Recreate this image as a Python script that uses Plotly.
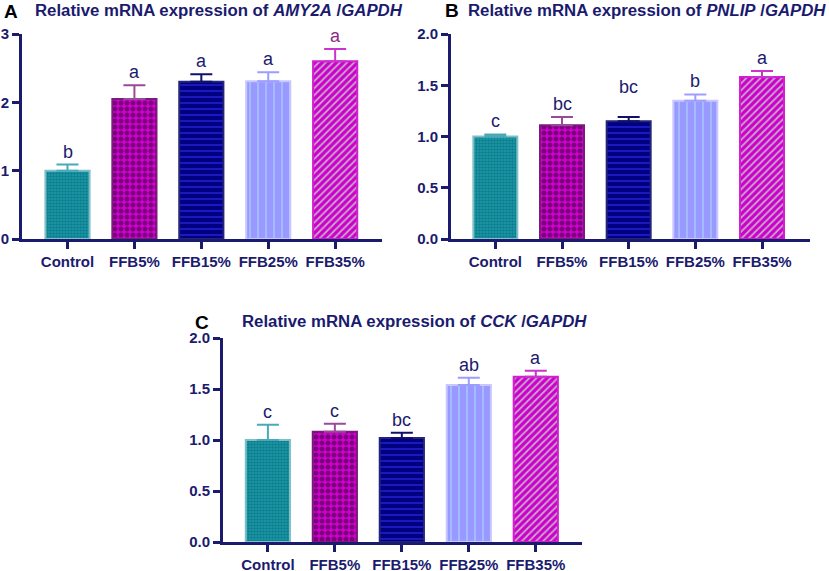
import plotly.graph_objects as go

categories = ["Control", "FFB5%", "FFB15%", "FFB25%", "FFB35%"]

amy2a_mean = [1.00, 2.05, 2.30, 2.31, 2.60]
amy2a_err = [0.09, 0.20, 0.11, 0.13, 0.18]
amy2a_letters = ["b", "a", "a", "a", "a"]

pnlip_mean = [1.00, 1.11, 1.15, 1.35, 1.58]
pnlip_err = [0.02, 0.08, 0.04, 0.06, 0.06]
pnlip_letters = ["c", "bc", "bc", "b", "a"]

cck_mean = [1.00, 1.08, 1.02, 1.54, 1.62]
cck_err = [0.15, 0.08, 0.05, 0.07, 0.06]
cck_letters = ["c", "c", "bc", "ab", "a"]

W, H = 829, 571
NAVY = "#1b1b6e"
FONT = "Liberation Sans, Arial"


def px_x(v):
    return v / W


def px_y(v):
    return 1 - v / H


styles = [
    dict(bg="#1c9aab", fg="#0f7d8c", shape=".", size=3, sol=0.55, line="#7fc0c8", err="#4aa9b6"),
    dict(bg="#d200d2", fg="#7a007a", shape=".", size=6, sol=0.55, line="#7a1a7a", err="#9a4a9a"),
    dict(bg="#000080", fg="#2a2ae6", shape="-", size=6, sol=0.2, line="#24247a", err="#10106a"),
    dict(bg="#9999ff", fg="#a9d4ff", shape="|", size=8, sol=0.15, line="#c8c8ff", err="#9d9dff"),
    dict(bg="#cc00cc", fg="#c8a8c8", shape="/", size=5, sol=0.35, line="#d020d0", err="#cc33cc"),
]

fig = go.Figure()

panels = [
    dict(mean=amy2a_mean, err=amy2a_err, letters=amy2a_letters, x0=22, x1=382, ytop=34, ybot=239,
         yr=[0, 3], dtick=1, fmt="d", xr=[-0.68, 4.7], extra=[0, 0, 0, 0, 0],
         lcol=[NAVY, NAVY, NAVY, NAVY, "#8b2a8b"]),
    dict(mean=pnlip_mean, err=pnlip_err, letters=pnlip_letters, x0=451, x1=810, ytop=34, ybot=239,
         yr=[0, 2], dtick=0.5, fmt=".1f", xr=[-0.665, 4.72], extra=[0, 0, 17, 0, 0],
         lcol=[NAVY] * 5),
    dict(mean=cck_mean, err=cck_err, letters=cck_letters, x0=223, x1=582, ytop=338, ybot=542,
         yr=[0, 2], dtick=0.5, fmt=".1f", xr=[-0.67, 4.69], extra=[0, 0, 0, 0, 0],
         lcol=[NAVY] * 5),
]

annotations = []
for pi, p in enumerate(panels):
    n = "" if pi == 0 else str(pi + 1)
    xa, ya = "x" + n, "y" + n
    for i, cat in enumerate(categories):
        s = styles[i]
        fig.add_trace(go.Bar(
            x=[cat], y=[p["mean"][i]], width=0.66,
            xaxis=xa, yaxis=ya, showlegend=False,
            marker=dict(color=s["bg"], line=dict(color=s["line"], width=2),
                        pattern=dict(shape=s["shape"], fgcolor=s["fg"], bgcolor=s["bg"],
                                     size=s["size"], solidity=s["sol"], fillmode="replace")),
            error_y=dict(type="data", array=[p["err"][i]], arrayminus=[0], symmetric=False,
                         color=s["err"], thickness=2, width=11),
        ))
        annotations.append(dict(
            x=cat, y=p["mean"][i] + p["err"][i], xref=xa, yref=ya,
            text=p["letters"][i], showarrow=False, yanchor="bottom",
            yshift=1 + p["extra"][i],
            font=dict(family=FONT, size=18, color=p["lcol"][i]),
        ))
    axis_common = dict(showline=True, linecolor=NAVY, linewidth=3, ticks="outside",
                       tickcolor=NAVY, tickwidth=3, ticklen=7, showgrid=False, zeroline=False,
                       automargin=False,
                       tickfont=dict(family=FONT, size=15, color=NAVY, weight="bold"))
    fig.update_layout(**{
        "xaxis" + n: dict(domain=[px_x(p["x0"]), px_x(p["x1"])], anchor=ya, range=p["xr"],
                          type="category", categoryorder="array", categoryarray=categories,
                          **axis_common),
        "yaxis" + n: dict(domain=[px_y(p["ybot"]), px_y(p["ytop"])], anchor=xa,
                          range=p["yr"], dtick=p["dtick"], tickformat=p["fmt"], **axis_common),
    })

titles = [
    ("A", 2, 12, "Relative mRNA expression of <i>AMY2A</i> /<i>GAPDH</i>", 33, 11),
    ("B", 443, 11, "Relative mRNA expression of <i>PNLIP</i> /<i>GAPDH</i>", 466, 10),
    ("C", 193, 322, "Relative mRNA expression of <i>CCK</i> /<i>GAPDH</i>", 240, 321),
]
for letter, lx, ly, text, tx, ty in titles:
    annotations.append(dict(x=px_x(lx), y=px_y(ly), xref="paper", yref="paper", text="<b>" + letter + "</b>",
                            showarrow=False, xanchor="left", yanchor="middle",
                            font=dict(family=FONT, size=19, color="black")))
    annotations.append(dict(x=px_x(tx), y=px_y(ty), xref="paper", yref="paper", text="<b>" + text + "</b>",
                            showarrow=False, xanchor="left", yanchor="middle",
                            font=dict(family=FONT, size=16.8, color=NAVY)))

fig.update_layout(
    width=W, height=H, margin=dict(l=0, r=0, t=0, b=0, autoexpand=False),
    paper_bgcolor="white", plot_bgcolor="white", barmode="overlay",
    annotations=annotations,
)

fig.write_html("out.html", config={"displayModeBar": False},
               post_script="document.body.style.margin='0';document.body.style.overflow='hidden';")
